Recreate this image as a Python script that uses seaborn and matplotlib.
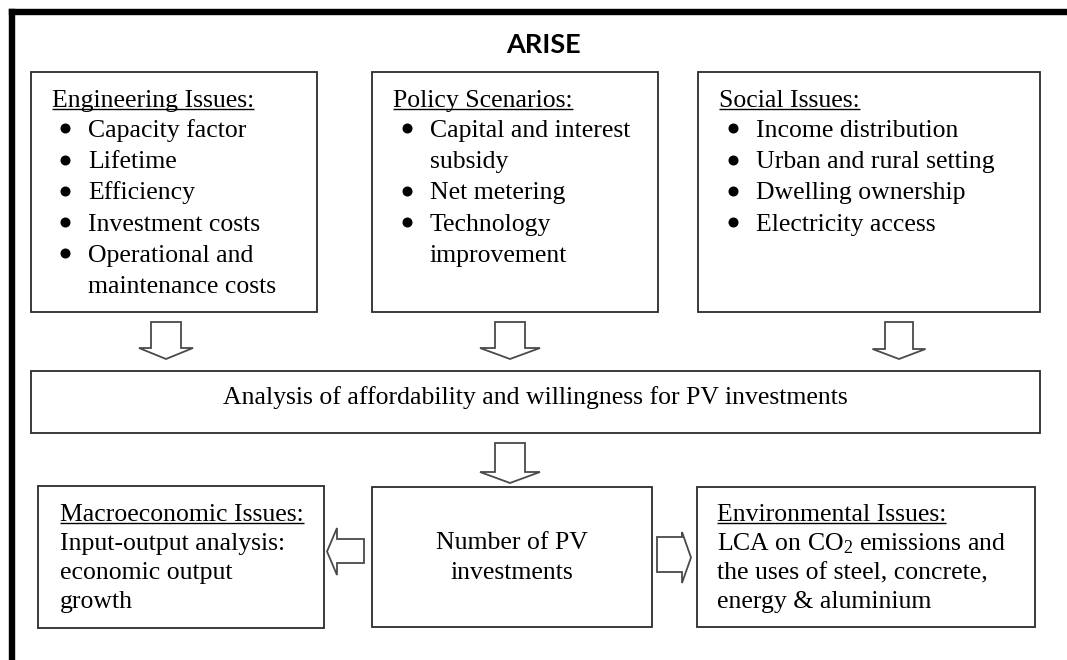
import matplotlib
matplotlib.use("Agg")
import matplotlib.pyplot as plt
import seaborn as sns
from matplotlib.patches import Rectangle, Polygon

# ---------------- content ----------------
title = "ARISE"
eng_title = "Engineering Issues:"
eng_items = ["Capacity factor", "Lifetime", "Efficiency", "Investment costs",
             "Operational and\nmaintenance costs"]
policy_title = "Policy Scenarios:"
policy_items = ["Capital and interest\nsubsidy", "Net metering", "Technology\nimprovement"]
social_title = "Social Issues:"
social_items = ["Income distribution", "Urban and rural setting", "Dwelling ownership",
                "Electricity access"]
analysis_label = "Analysis of affordability and willingness for PV investments"
number_lines = ["Number of PV", "investments"]
macro_title = "Macroeconomic Issues:"
macro_lines = ["Input-output analysis:", "economic output", "growth"]
env_title = "Environmental Issues:"
env_lines = ["LCA on CO$_2$ emissions and", "the uses of steel, concrete,", "energy & aluminium"]

# ---------------- style ----------------
sns.set_theme(style="white")
plt.rcParams['font.family'] = ['Liberation Serif', 'DejaVu Serif']
plt.rcParams['mathtext.fontset'] = 'custom'
plt.rcParams['mathtext.rm'] = 'Liberation Serif'
plt.rcParams['mathtext.it'] = 'Liberation Serif:italic'

W, H = 1067, 660
fig = plt.figure(figsize=(W / 100, H / 100), dpi=100)
ax = fig.add_axes([0, 0, 1, 1])
ax.set_autoscale_on(False)
ax.set_xlim(0, W)
ax.set_ylim(H, 0)
ax.axis('off')

FS = 18.5
BOX_LW = 1.3
BOX_EC = '#2b2b2b'
ARROW_EC = '#4a4a4a'

def box(x0, y0, x1, y1):
    ax.add_patch(Rectangle((x0, y0), x1 - x0, y1 - y0, fill=False, ec=BOX_EC, lw=BOX_LW, zorder=2))

underline_jobs = []

def heading(x, y, s):
    t = ax.text(x, y, s, fontsize=FS, va='baseline', ha='left', color='black')
    underline_jobs.append((t, y))

def bullet_list(x_b, x_t, y0, items, dy):
    y = y0
    for item in items:
        parts = item.split('\n')
        ax.plot([x_b], [y - 8.7], marker='o', ms=6.2, color='black', zorder=3)
        for p in parts:
            ax.text(x_t, y, p, fontsize=FS, va='baseline', ha='left', color='black')
            y += dy

def plain_lines(x, y0, lines, dy, ha='left'):
    y = y0
    for s in lines:
        ax.text(x, y, s, fontsize=FS, va='baseline', ha=ha, color='black')
        y += dy

def down_arrow(cx, y_top, y_head, y_tip, hs, hh):
    pts = [(cx - hs, y_top), (cx + hs, y_top), (cx + hs, y_head), (cx + hh, y_head),
           (cx, y_tip), (cx - hh, y_head), (cx - hs, y_head)]
    ax.add_patch(Polygon(pts, closed=True, fc='white', ec=ARROW_EC, lw=1.3, joinstyle='miter', zorder=2))

def poly_arrow(pts):
    ax.add_patch(Polygon(pts, closed=True, fc='white', ec=ARROW_EC, lw=1.3, joinstyle='miter', zorder=2))

# ---------------- outer frame ----------------
ax.plot([11.8, W + 10], [11.8, 11.8], color='black', lw=4.6, solid_capstyle='projecting', zorder=4)
ax.plot([11.8, 11.8], [11.8, H + 10], color='black', lw=4.6, solid_capstyle='projecting', zorder=4)

# ---------------- title ----------------
ax.text(543, 53, title, fontsize=19.5, fontweight='bold', family=['Lato', 'DejaVu Sans'],
        ha='center', va='baseline', color='black')

# ---------------- top boxes ----------------
DY = 31.2
box(31, 72, 317, 312)
heading(52, 107, eng_title)
bullet_list(65, 88, 137, eng_items, DY)

box(372, 72, 658, 312)
heading(393, 107, policy_title)
bullet_list(407, 430, 137, policy_items, DY)

box(698, 72, 1040, 312)
heading(719, 107, social_title)
bullet_list(733, 756, 137, social_items, DY)

# arrows down
down_arrow(166, 322, 348, 359, 15, 27)
down_arrow(510, 322, 348, 359, 15, 30)
down_arrow(899, 322, 349, 359, 14, 26.5)

# ---------------- middle box ----------------
box(31, 371, 1040, 433)
ax.text(535.5, 404, analysis_label, fontsize=FS, ha='center', va='baseline', color='black')

down_arrow(510, 443, 472, 483, 15, 30)

# ---------------- bottom boxes ----------------
DY2 = 29.2
box(38, 486, 324, 628)
heading(60, 521, macro_title)
plain_lines(60, 550, macro_lines, DY2)

box(372, 487, 652, 627)
plain_lines(512, 549, number_lines, 30, ha='center')

box(697, 487, 1035, 627)
heading(717, 521, env_title)
plain_lines(717, 550, env_lines, DY2)

# side arrows
poly_arrow([(364, 539), (364, 563), (337, 563), (337, 575), (327, 551.5), (337, 528), (337, 539)])
poly_arrow([(657, 537), (682, 537), (682, 532), (691, 557.5), (682, 583), (682, 572), (657, 572)])

# ---------------- underlines ----------------
fig.canvas.draw()
renderer = fig.canvas.get_renderer()
inv = ax.transData.inverted()
for t, y in underline_jobs:
    bb = t.get_window_extent(renderer)
    x0 = inv.transform((bb.x0, bb.y0))[0]
    x1 = inv.transform((bb.x1, bb.y0))[0]
    ax.plot([x0, x1], [y + 2.2, y + 2.2], color='black', lw=1.0, solid_capstyle='butt', zorder=3)

ax.set_xlim(0, W)
ax.set_ylim(H, 0)
fig.savefig("out.png", dpi=100, facecolor='white')
